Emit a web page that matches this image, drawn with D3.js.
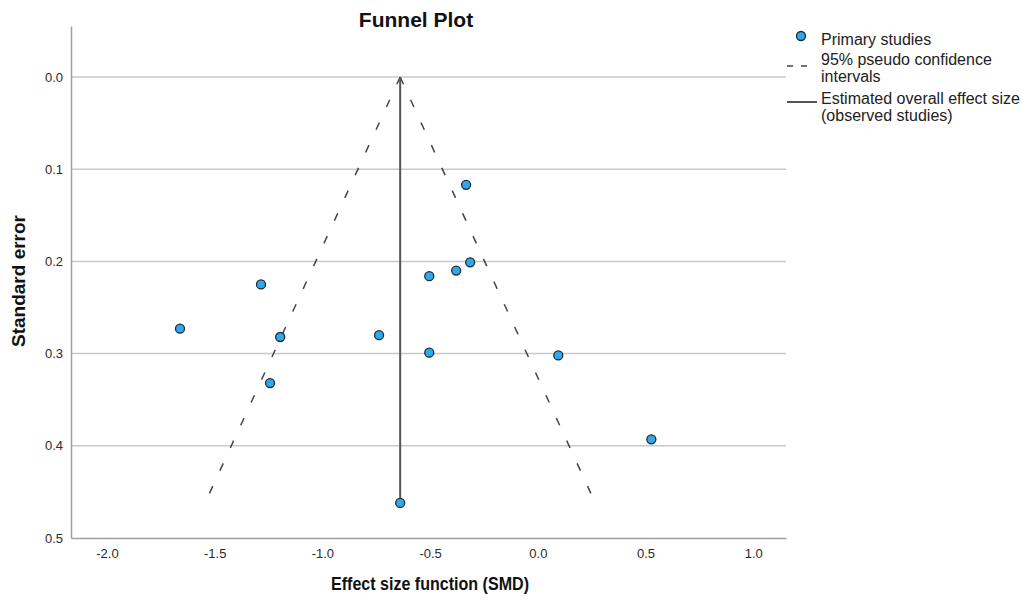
<!DOCTYPE html>
<html>
<head>
<meta charset="utf-8">
<script src="https://cdn.jsdelivr.net/npm/d3@7"></script>
<style>
    body { margin: 0; background: #fff; }
    svg { font-family: Arial, "Liberation Sans", sans-serif; }
</style>
</head>
<body>
<div class="chart"></div>
<script>
// primary studies
const effectSizes = [-0.333, -0.314, -0.379, -0.504, -1.285, -1.661, -1.196, -0.737, -0.504, 0.095, -1.243, 0.527, -0.639]
const standardErrors = [0.117, 0.201, 0.210, 0.216, 0.225, 0.273, 0.282, 0.280, 0.299, 0.302, 0.332, 0.393, 0.462]
const overallEffect = -0.639

const xTicks = [-2.0, -1.5, -1.0, -0.5, 0.0, 0.5, 1.0]
const yTicks = [0.0, 0.1, 0.2, 0.3, 0.4, 0.5]
const legendLabels = [
    ['Primary studies'],
    ['95% pseudo confidence', 'intervals'],
    ['Estimated overall effect size', '(observed studies)']
]

const width = 1030
const height = 604

const svg = d3.select('.chart').append('svg')
    .attr('width', width)
    .attr('height', height)

const x = d3.scaleLinear()
    .domain([-2.167, 1.152])
    .range([71, 786])
const y = d3.scaleLinear()
    .domain([-0.0553, 0.5])
    .range([26, 538])

// gridlines
svg.append('g')
    .selectAll('line')
    .data(yTicks.slice(0, -1))
    .enter()
    .append('line')
    .attr('x1', x.range()[0])
    .attr('x2', x.range()[1])
    .attr('y1', d => y(d))
    .attr('y2', d => y(d))
    .attr('stroke', '#c9c9c9')
    .attr('stroke-width', 1.5)

// axes
const yAxis = svg.append('g')
    .attr('transform', `translate(${x.range()[0]},0)`)
    .call(d3.axisLeft(y).tickValues(yTicks).tickFormat(d3.format('.1f')).tickSize(0).tickPadding(8))
const xAxis = svg.append('g')
    .attr('transform', `translate(0,${y.range()[1]})`)
    .call(d3.axisBottom(x).tickValues(xTicks).tickFormat(d3.format('.1f')).tickSize(0).tickPadding(11))

svg.selectAll('.domain')
    .attr('stroke', '#a0a0a0')
    .attr('stroke-width', 1.5)
svg.selectAll('.tick text')
    .attr('fill', '#2a2a2a')
    .style('font-size', '13px')
    .style('font-family', 'Arial, "Liberation Sans", sans-serif')
xAxis.selectAll('.tick text').text(d => d3.format('.1f')(d).replace('−', '-'))
yAxis.selectAll('.tick text').attr('x', -8)

// funnel
const seMax = d3.max(standardErrors)
const funnel = d3.line().x(d => x(d[0])).y(d => y(d[1]))
const dashed = [
    [[overallEffect, 0], [overallEffect - 1.96 * seMax, seMax]],
    [[overallEffect, 0], [overallEffect + 1.96 * seMax, seMax]]
]
svg.append('g')
    .selectAll('path')
    .data(dashed)
    .enter()
    .append('path')
    .attr('d', funnel)
    .attr('fill', 'none')
    .attr('stroke', '#444')
    .attr('stroke-width', 1.5)
    .attr('stroke-dasharray', '8,17')

svg.append('path')
    .attr('d', funnel([[overallEffect, 0], [overallEffect, seMax]]))
    .attr('stroke', '#555')
    .attr('stroke-width', 2)

// studies
svg.append('g')
    .selectAll('circle')
    .data(effectSizes.map((d, i) => [d, standardErrors[i]]))
    .enter()
    .append('circle')
    .attr('cx', d => x(d[0]))
    .attr('cy', d => y(d[1]))
    .attr('r', 4.5)
    .attr('fill', '#2fa9ee')
    .attr('stroke', '#1e2a33')
    .attr('stroke-width', 1.3)

// titles
svg.append('text')
    .attr('x', 416)
    .attr('y', 27)
    .attr('text-anchor', 'middle')
    .style('font-size', '21px')
    .style('font-weight', 'bold')
    .attr('fill', '#111')
    .text('Funnel Plot')

svg.append('text')
    .attr('x', 430)
    .attr('y', 590)
    .attr('text-anchor', 'middle')
    .style('font-size', '18px')
    .style('font-weight', 'bold')
    .attr('textLength', 198)
    .attr('lengthAdjust', 'spacingAndGlyphs')
    .attr('fill', '#111')
    .text('Effect size function (SMD)')

svg.append('text')
    .attr('transform', 'translate(25,281) rotate(-90)')
    .attr('text-anchor', 'middle')
    .style('font-size', '19px')
    .style('font-weight', 'bold')
    .attr('fill', '#111')
    .text('Standard error')

// legend
const legend = svg.append('g')
    .style('font-size', '16px')
    .attr('fill', '#222')

legend.append('circle')
    .attr('cx', 801)
    .attr('cy', 36)
    .attr('r', 4.5)
    .attr('fill', '#2fa9ee')
    .attr('stroke', '#1e2a33')
    .attr('stroke-width', 1.3)
legend.append('line')
    .attr('x1', 787).attr('x2', 807)
    .attr('y1', 66).attr('y2', 66)
    .attr('stroke', '#444')
    .attr('stroke-width', 1.5)
    .attr('stroke-dasharray', '6,8')
legend.append('line')
    .attr('x1', 787).attr('x2', 817)
    .attr('y1', 102).attr('y2', 102)
    .attr('stroke', '#555')
    .attr('stroke-width', 2)

const legendY = [45, 65, 104]
legendLabels.forEach((lines, i) => {
    legend.append('text')
        .attr('x', 821)
        .attr('y', legendY[i])
        .selectAll('tspan')
        .data(lines)
        .enter()
        .append('tspan')
        .attr('x', 821)
        .attr('dy', (d, j) => j ? 16.5 : 0)
        .text(d => d)
})
</script>
</body>
</html>
